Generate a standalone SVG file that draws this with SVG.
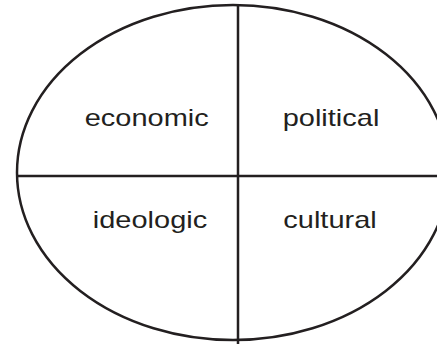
<svg xmlns="http://www.w3.org/2000/svg" width="437" height="344" viewBox="0 0 437 344">
<style>
.ln{stroke:#231f20;stroke-width:2.5;fill:none}
.lb{font-family:"Liberation Sans",Arial,sans-serif;font-size:23px;fill:#231f20;text-anchor:middle}
</style>
<rect width="437" height="344" fill="#fff"/>
<g id="connectors">
<ellipse class="ln" cx="233" cy="172.5" rx="216" ry="167.5"/>
<line class="ln" x1="238" y1="5" x2="238" y2="344"/>
<line class="ln" x1="17" y1="176" x2="437" y2="176"/>
</g>
<g id="economic"><text class="lb" transform="translate(146.7,126) scale(1.26,1)">economic</text></g>
<g id="political"><text class="lb" transform="translate(331,126) scale(1.26,1)">political</text></g>
<g id="ideologic"><text class="lb" transform="translate(150,228) scale(1.26,1)">ideologic</text></g>
<g id="cultural"><text class="lb" transform="translate(330,228) scale(1.26,1)">cultural</text></g>
</svg>
